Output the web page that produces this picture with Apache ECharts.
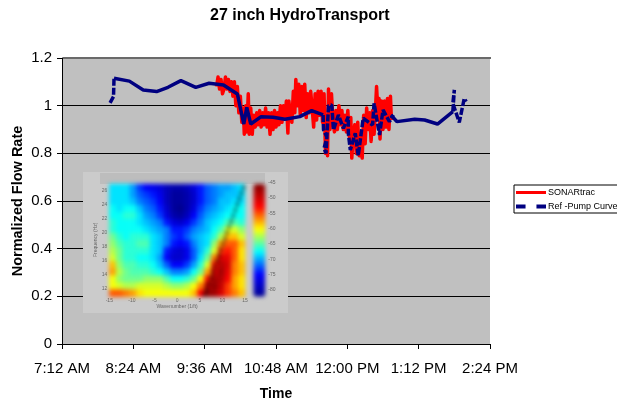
<!DOCTYPE html>
<html><head><meta charset="utf-8">
<style>html,body{margin:0;padding:0;background:#fff;overflow:hidden}
#main{position:absolute;left:0;top:0;width:617px;height:402px}
#heat{position:absolute;left:95px;top:176px;width:185px;height:130px;filter:blur(2.2px)}</style>
<script src="https://cdn.jsdelivr.net/npm/echarts@6/dist/echarts.min.js"></script>
</head><body><div id="main"></div><div id="heat"></div>
<script>
const title = '27 inch HydroTransport';
const sonarName = 'SONARtrac';
const pumpName = 'Ref -Pump Curve';
// minutes after midnight, normalized flow
const sonarTime = [588,589.5,591,592.5,594,595.5,597,598.5,600,601.5,603,604.5,606,607.5,609,610.5,612,613.5,615,616,617.5,618.5,620,621,622.5,624,625.5,627,628.5,630,631.5,633,634.5,636,637.5,639,640.5,642,643.5,645,646.5,648,649.5,651,652.5,654,655.5,657,658.5,660,661,662.5,664,665.5,667,668,669.5,671,672.5,674,675.5,677,678.5,680,681.5,683,684.5,686,687.5,689,690.5,692,693.5,695,696.5,698,699,700,701,702.5,704,705.5,707,708.5,710,711.5,713,714.5,716,717.5,719,720.5,722,723.5,724.5,726,727.5,729,730.5,732,733.5,735,736.5,738,739.5,741,742.5,744,745.5,747,748,749.5,751,752,753,754.5,756,757.5,759,760.5,762,763.5,764.5];
const sonarFlow = [1.08,1.12,1.07,1.11,1.05,1.07,1.12,1.07,1.11,1.06,1.10,1.04,1.10,1.00,1.08,.97,1.04,.93,.99,.88,1.00,.89,1.05,.88,.99,.88,.96,.91,.97,.92,.98,.91,.97,.92,.99,.91,.97,.88,.97,.90,.98,.91,.97,.92,1.00,.93,1.00,.95,1.02,.885,1.02,.96,.93,1.06,.97,1.11,1.00,1.09,.96,1.08,.98,1.09,.95,1.05,.97,1.06,.99,.91,1.05,.94,1.06,.96,1.06,.93,1.05,.80,.96,.79,1.07,.90,1.05,.93,.89,.98,.90,1.00,.92,.98,.90,.96,.89,.98,.87,.95,.78,.88,.92,.80,.93,.79,.88,.78,.96,.84,.99,.90,.97,.85,.98,.88,.95,1.08,.96,1.03,.86,1.02,.90,1.02,.91,1.03,.90,1.04,.94];
const pumpSolidTime = [484.5,500,514,527.5,539,552,567,580.5,595,609,615.5,618.5,622.5,633,645,657,672,684,695.5,null,764,770,788,798,811,826.5];
const pumpSolidFlow = [1.115,1.103,1.066,1.059,1.077,1.105,1.077,1.094,1.087,1.049,.923,.993,.923,.954,.951,.943,.954,.979,.961,null,.961,.933,.943,.94,.923,.975];
const pumpDashTime = [480.5,484,484.5,null,695.5,696,699.5,696.5,698.5,701,704.3,706,711,716,721,721,723,728,731,736,745.5,747,752.5,756,762.5,766.5,null,826.5,828,826.5,833,838,840];
const pumpDashFlow = [1.012,1.038,1.115,null,.961,.898,.867,.821,.80,1.0,1.003,.898,.961,.905,.954,.884,.814,.884,.79,.947,.919,1.01,.877,.982,.933,.961,null,.975,1.066,1.01,.93,1.03,1.017];
const heatRows = [
[-68,-68,-68,-70,-73,-75,-76,-77,-79,-80,-80,-79,-77,-74,-72,-71,-70,-70,-69,-68],
[-68,-68,-68,-70,-72,-73,-74,-76,-79,-81,-81,-80,-78,-74,-72,-71,-70,-69,-69,-68],
[-68,-68,-68,-69,-71,-72,-73,-75,-79,-81,-81,-80,-78,-74,-72,-71,-69,-69,-68,-68],
[-67,-68,-67,-67,-69,-71,-72,-74,-78,-81,-82,-80,-77,-73,-71,-70,-69,-68,-67,-67],
[-67,-67,-66,-66,-68,-70,-71,-73,-77,-80,-81,-79,-75,-72,-70,-69,-68,-67,-67,-67],
[-66,-67,-67,-67,-68,-69,-70,-71,-74,-77,-78,-76,-73,-71,-69,-68,-67,-65,-65,-66],
[-66,-67,-67,-67,-67,-68,-69,-70,-71,-74,-74,-73,-71,-70,-69,-67,-65,-61,-61,-63],
[-64,-66,-67,-66,-66,-66,-68,-69,-71,-73,-74,-72,-70,-69,-68,-66,-62,-58,-58,-61],
[-63,-65,-66,-66,-65,-65,-68,-69,-71,-74,-75,-74,-71,-69,-68,-63,-57,-55,-55,-58],
[-62,-64,-66,-66,-66,-66,-68,-69,-74,-77,-78,-76,-72,-69,-66,-61,-54,-53,-55,-59],
[-61,-64,-66,-66,-67,-67,-68,-70,-75,-78,-78,-76,-72,-68,-64,-56,-50,-51,-55,-59],
[-58,-63,-65,-65,-66,-66,-67,-69,-72,-75,-75,-73,-70,-66,-61,-53,-48,-50,-56,-58],
[-57,-62,-64,-65,-65,-65,-66,-67,-69,-71,-71,-70,-67,-64,-57,-50,-47,-51,-56,-58],
[-60,-63,-64,-64,-64,-63,-63,-63,-65,-67,-67,-66,-64,-60,-53,-47,-48,-52,-57,-59],
[-60,-61,-62,-62,-61,-61,-61,-61,-62,-63,-63,-62,-60,-56,-49,-46,-49,-54,-57,-59],
[-55,-55,-56,-57,-59,-60,-60,-60,-60,-60,-60,-60,-58,-52,-46,-47,-50,-54,-56,-58]];
const aliasLineK = [5.9,15];
const aliasLineHz = [11,27];
const jet = ['#00008f','#0000ff','#00ffff','#ffff00','#ff0000','#800000'];

const zip = (a,b)=>a.map((v,i)=>[v,b[i]]);
const fmtTime = m => { const h=Math.floor(m/60), mm=String(m%60).padStart(2,'0');
  return (h>12?h-12:h)+':'+mm+(h>=12?' PM':' AM'); };
const font = 'Liberation Sans, Arial, sans-serif';
const tiny = {fontSize:5,color:'#666',fontFamily:font};

const main = echarts.init(document.getElementById('main'),null,{renderer:'canvas'});
main.setOption({
  animation:false, backgroundColor:'#fff',
  title:{text:title,left:205,top:3,textStyle:{fontFamily:font,fontSize:16,fontWeight:'bold',color:'#000'}},
  legend:{orient:'vertical',left:514,top:185,width:110,padding:[3,8,2,2],itemGap:5,itemWidth:30,itemHeight:9,
    backgroundColor:'#fff',borderColor:'#000',borderWidth:1,
    textStyle:{fontFamily:font,fontSize:9,color:'#000',padding:[0,0,0,-3]},
    data:[{name:sonarName,icon:'path://M0 3.5H30V6.5H0Z',itemStyle:{color:'#ff0000'}},
          {name:pumpName,icon:'path://M0 3.5H7V6.5H0ZM15 3.5H22V6.5H15Z',itemStyle:{color:'#000080'}}]},
  graphic:[
    {type:'rect',z:1,shape:{x:83,y:172,width:205,height:141},style:{fill:'#cbcbcb'}},
    {type:'rect',z:1,shape:{x:100,y:173,width:165,height:11},style:{fill:'#bdbdbd'}},
    {type:'rect',z:5,shape:{x:63,y:57,width:428,height:2},style:{fill:'#6a6a6a'}}
  ],
  grid:[{left:62,top:58,width:428,height:286,backgroundColor:'#c0c0c0',show:true,borderWidth:0,outerBoundsMode:'none'},
        {left:109.3,top:190.7,width:135.7,height:98.3,outerBoundsMode:'none'},
        {left:253.3,top:182.7,width:12,height:107.3,outerBoundsMode:'none'}],
  xAxis:[{type:'value',gridIndex:0,min:432,max:864,interval:72,splitLine:{show:false},
      axisLine:{lineStyle:{color:'#000',width:1}},axisTick:{length:5,lineStyle:{color:'#000'}},
      axisLabel:{formatter:fmtTime,fontFamily:font,fontSize:15,color:'#000',margin:17},
      name:'Time',nameLocation:'middle',nameGap:43,nameTextStyle:{fontFamily:font,fontSize:14,fontWeight:'bold',color:'#000'}},
    {type:'value',gridIndex:1,z:10,min:-15,max:15,interval:5,splitLine:{show:false},axisLine:{show:false},axisTick:{show:false},
      axisLabel:{...tiny,margin:9},name:'Wavenumber (1/ft)',nameLocation:'middle',nameGap:15,nameTextStyle:tiny},
    {type:'value',gridIndex:2,z:10,min:0,max:1,show:false}],
  yAxis:[{type:'value',gridIndex:0,min:0,max:1.2,interval:0.2,
      splitLine:{lineStyle:{color:'#000',width:1}},
      axisLine:{show:true,lineStyle:{color:'#000',width:1}},axisTick:{show:true,length:5,lineStyle:{color:'#000'}},
      axisLabel:{fontFamily:font,fontSize:15,color:'#000',margin:10},
      name:'Normalized Flow Rate',nameLocation:'middle',nameGap:37,nameMoveOverlap:false,nameTextStyle:{fontFamily:font,fontSize:14.5,fontWeight:'bold',color:'#000'}},
    {type:'value',gridIndex:1,z:10,min:12,max:26,interval:2,splitLine:{show:false},axisLine:{show:false},axisTick:{show:false},
      axisLabel:{...tiny,margin:2},name:'Frequency (Hz)',nameLocation:'middle',nameGap:9,nameTextStyle:tiny},
    {type:'value',gridIndex:2,z:10,min:-80,max:-45,interval:5,position:'right',splitLine:{show:false},axisLine:{show:false},axisTick:{show:false},
      axisLabel:{...tiny,margin:3}}],
  series:[
    {name:sonarName,type:'line',xAxisIndex:0,yAxisIndex:0,symbol:'none',z:3,data:zip(sonarTime,sonarFlow),lineStyle:{color:'#ff0000',width:3.5,join:'round'}},
    {name:'pumpSolid',type:'line',xAxisIndex:0,yAxisIndex:0,symbol:'none',z:4,connectNulls:false,data:zip(pumpSolidTime,pumpSolidFlow),lineStyle:{color:'#000080',width:3.5}},
    {name:pumpName,type:'line',xAxisIndex:0,yAxisIndex:0,symbol:'none',z:4,connectNulls:false,data:zip(pumpDashTime,pumpDashFlow),lineStyle:{color:'#000080',width:3.5,type:[7,2]},itemStyle:{color:'#000080'}}
  ]
});

const heatCells=[]; heatRows.forEach((r,i)=>r.forEach((v,j)=>heatCells.push([j,heatRows.length-1-i,v])));
const heat = echarts.init(document.getElementById('heat'),null,{renderer:'canvas'});
heat.setOption({
  animation:false,
  grid:{left:14.3,top:8,width:135.7,height:112.7,outerBoundsMode:'none'},
  xAxis:[{type:'category',show:false,data:heatRows[0].map((_,j)=>j)},{type:'value',show:false,min:-15,max:15}],
  yAxis:[{type:'category',show:false,data:heatRows.map((_,i)=>i)},{type:'value',show:false,min:10.9,max:26.95}],
  visualMap:{type:'continuous',seriesIndex:0,min:-82,max:-45,left:158.3,top:8,itemWidth:12,itemHeight:112.7,padding:0,text:['',''],calculable:false,inRange:{color:jet},textStyle:{fontSize:1}},
  series:[{type:'heatmap',data:heatCells,xAxisIndex:0,yAxisIndex:0,itemStyle:{borderWidth:0}},
    {type:'line',xAxisIndex:1,yAxisIndex:1,symbol:'none',z:5,data:zip(aliasLineK,aliasLineHz),lineStyle:{color:'#000',width:2.5,type:[3,3]}}]
});
</script></body></html>
